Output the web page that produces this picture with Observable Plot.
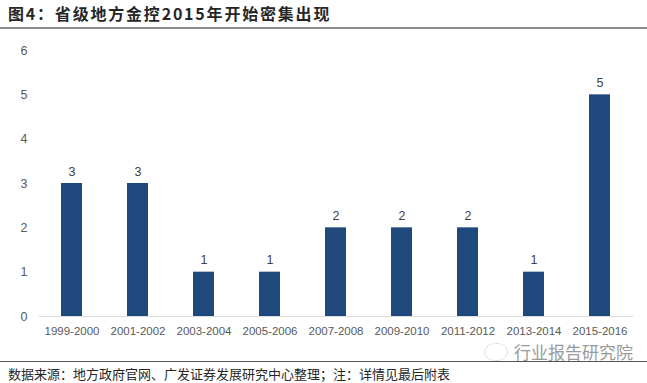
<!DOCTYPE html>
<html>
<head>
<meta charset="utf-8">
<script src="https://cdn.jsdelivr.net/npm/d3@7"></script>
<script src="https://cdn.jsdelivr.net/npm/@observablehq/plot@0.6"></script>
<style>
  html, body { margin: 0; padding: 0; background: #fff; }
  body { width: 647px; height: 383px; position: relative; overflow: hidden; font-family: "Liberation Sans", Arial, sans-serif; }
  #title { position: absolute; left: 8px; top: 2px; font-family: "Noto Sans CJK SC", sans-serif; font-weight: bold; font-size: 16px; letter-spacing: 1.8px; color: #262626; line-height: 22px; }
  #topline { position: absolute; left: 0; top: 27px; width: 647px; height: 2px; background: #8c8c8c; }
  #chart { position: absolute; left: 0; top: 30px; }
  #wm { position: absolute; left: 514px; top: 342px; font-family: "Noto Sans CJK SC", sans-serif; font-size: 17px; color: #9a9a9a; line-height: 20px; }
  #wmicon { position: absolute; left: 484px; top: 343px; width: 22px; height: 16px; border: 1px dotted #bbb; border-radius: 50%; }
  #botline { position: absolute; left: 0; top: 361px; width: 647px; height: 1px; background: #555; }
  #source { position: absolute; left: 8px; top: 365px; font-family: "Noto Sans CJK SC", sans-serif; font-size: 13px; color: #262626; line-height: 17px; }
</style>
</head>
<body>
<div id="title">图4：省级地方金控2015年开始密集出现</div>
<div id="topline"></div>
<div id="chart"></div>
<div id="wmicon"></div>
<div id="wm">行业报告研究院</div>
<div id="botline"></div>
<div id="source">数据来源：地方政府官网、广发证券发展研究中心整理；注：详情见最后附表</div>
<script>
const periods = ["1999-2000","2001-2002","2003-2004","2005-2006","2007-2008","2009-2010","2011-2012","2013-2014","2015-2016"];
const counts = [3, 3, 1, 1, 2, 2, 2, 1, 5];
const yTicks = [0, 1, 2, 3, 4, 5, 6];

const data = periods.map((p, i) => ({period: p, count: counts[i]}));

const chart = Plot.plot({
  width: 647,
  height: 310,
  marginLeft: 39,
  marginRight: 14,
  marginTop: 20,
  marginBottom: 24,
  style: { fontFamily: "'Liberation Sans', Arial, sans-serif", background: "transparent" },
  x: { domain: periods, paddingInner: 0.68, paddingOuter: 0.34, label: null },
  y: { domain: [0, 6], label: null },
  marks: [
    Plot.barY(data, { x: "period", y: "count", fill: "#1f497d" }),
    Plot.ruleY([0], { stroke: "#d9d9d9", strokeWidth: 1 }),
    Plot.text(data, { x: "period", y: "count", text: d => String(d.count), lineAnchor: "bottom", dy: -8, fontSize: 12.5, fill: "#404040" }),
    Plot.axisY({ ticks: yTicks, tickSize: 0, tickPadding: 12, fontSize: 12.5, color: "#595959", tickFormat: d => String(d) }),
    Plot.axisX({ tickSize: 0, tickPadding: 10, fontSize: 11.5, color: "#595959", letterSpacing: "-0.45px" })
  ]
});
document.getElementById("chart").appendChild(chart);
</script>
</body>
</html>
